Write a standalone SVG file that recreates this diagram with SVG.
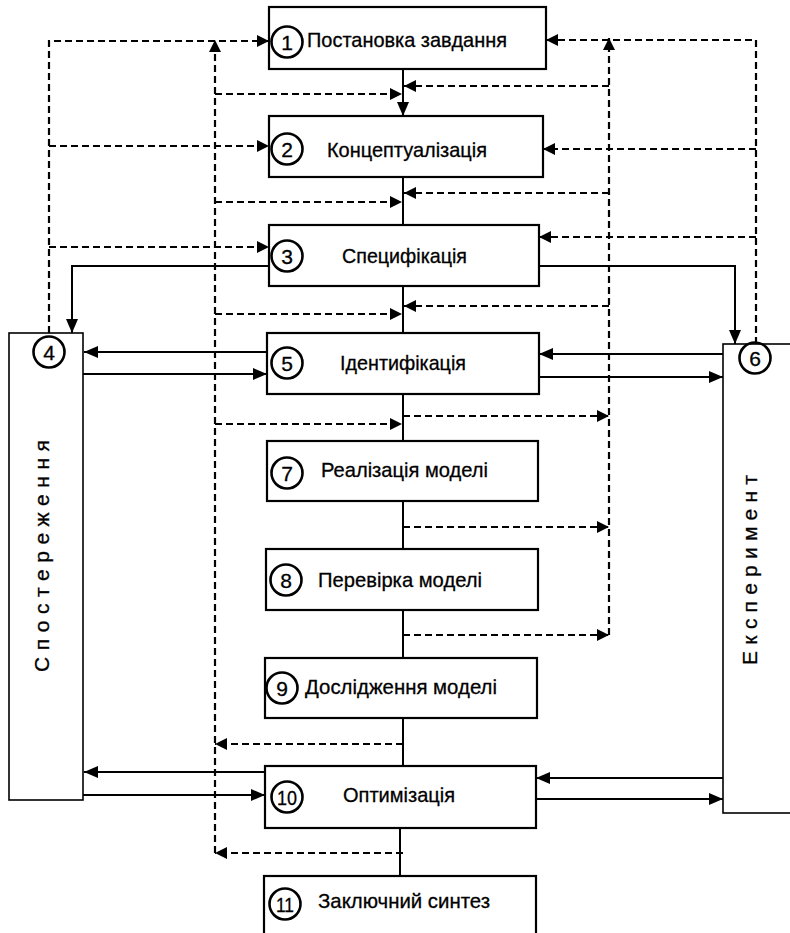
<svg xmlns="http://www.w3.org/2000/svg" width="790" height="933" viewBox="0 0 790 933">
<style>
.box{fill:#fff;stroke:#000;stroke-width:2.2}
.side{fill:#fff;stroke:#000;stroke-width:1.6}
.num{fill:none;stroke:#000;stroke-width:2.6}
.t{font-family:"Liberation Sans",Arial,sans-serif;font-size:21px;fill:#000;stroke:#000;stroke-width:0.3}
.d{font-family:"Liberation Sans",Arial,sans-serif;font-size:21px;fill:#000;text-anchor:middle;stroke:#000;stroke-width:0.3}
.v{font-family:"Liberation Sans",Arial,sans-serif;font-size:21px;fill:#000;stroke:#000;stroke-width:0.3}
.s{fill:none;stroke:#000;stroke-width:2}
.dash{fill:none;stroke:#000;stroke-width:2.2;stroke-dasharray:7 4}
</style>
<defs>
<marker id="ah" markerUnits="userSpaceOnUse" markerWidth="12" markerHeight="12" viewBox="0 0 12 12" refX="12" refY="6" orient="auto">
<path d="M0,0 L12,6 L0,12 z" fill="#000"/>
</marker>
<marker id="ahs" markerUnits="userSpaceOnUse" markerWidth="14" markerHeight="12" viewBox="0 0 14 12" refX="14" refY="6" orient="auto">
<path d="M0,0 L14,6 L0,12 z" fill="#000"/>
</marker>
</defs>
<rect width="790" height="933" fill="#fff"/>

<g id="connectors">
<g class="s" marker-end="url(#ahs)">
<path d="M403,69 V116"/>
<path d="M269,266 H72 V333"/>
<path d="M539,266 H735 V344"/>
<path d="M267,352 H84"/>
<path d="M83,374 H267"/>
<path d="M723,354 H539"/>
<path d="M539,377 H723"/>
<path d="M265,772 H84"/>
<path d="M83,795 H265"/>
<path d="M723,778 H536"/>
<path d="M536,799 H723"/>
</g>
<g class="s">
<path d="M403,177 V225"/>
<path d="M403,286 V333"/>
<path d="M403,393 V441"/>
<path d="M403,501 V549"/>
<path d="M403,610 V658"/>
<path d="M403,718 V766"/>
<path d="M400,828 V876"/>
</g>
<g class="dash" marker-end="url(#ah)">
<path d="M49,333 V41 H269"/>
<path d="M49,146 H269"/>
<path d="M49,247 H269"/>
<path d="M215,853 V40"/>
<path d="M215,94 H402"/>
<path d="M215,202 H402"/>
<path d="M215,314 H402"/>
<path d="M215,424 H402"/>
<path d="M403,744 H215"/>
<path d="M403,853 H215"/>
<path d="M609,635 V38"/>
<path d="M609,86 H404"/>
<path d="M609,193 H404"/>
<path d="M609,306 H404"/>
<path d="M403,416 H609"/>
<path d="M403,527 H609"/>
<path d="M403,635 H609"/>
<path d="M756,344 V40 H546"/>
<path d="M756,149 H543"/>
<path d="M756,237 H539"/>
</g>
</g>

<g id="n1">
<rect class="box" x="269" y="7" width="277" height="62"/>
<circle class="num" cx="287" cy="42" r="15.5"/>
<text class="d" x="287" y="49.5">1</text>
<text class="t" x="307" y="47" textLength="200" lengthAdjust="spacingAndGlyphs">Постановка  завдання</text>
</g>
<g id="n2">
<rect class="box" x="269" y="116" width="274" height="61"/>
<circle class="num" cx="287" cy="149" r="15.5"/>
<text class="d" x="287" y="156.5">2</text>
<text class="t" x="327" y="157" textLength="160" lengthAdjust="spacingAndGlyphs">Концептуалізація</text>
</g>
<g id="n3">
<rect class="box" x="269" y="225" width="270" height="61"/>
<circle class="num" cx="287" cy="256" r="15.5"/>
<text class="d" x="287" y="263.5">3</text>
<text class="t" x="342" y="263" textLength="125" lengthAdjust="spacingAndGlyphs">Специфікація</text>
</g>
<g id="n4">
<rect class="side" x="9" y="333" width="74" height="467"/>
<circle class="num" cx="49" cy="352" r="15.5"/>
<text class="d" x="49" y="359.5">4</text>
<text class="v" transform="translate(49,672) rotate(-90)" x="0" y="0" textLength="232" lengthAdjust="spacing">Спостереження</text>
</g>
<g id="n5">
<rect class="box" x="267" y="333" width="272" height="61"/>
<circle class="num" cx="287" cy="363" r="15.5"/>
<text class="d" x="287" y="370.5">5</text>
<text class="t" x="340" y="370" textLength="126" lengthAdjust="spacingAndGlyphs">Ідентифікація</text>
</g>
<g id="n6">
<rect class="side" x="723" y="344" width="100" height="469"/>
<circle class="num" cx="755" cy="358" r="15.5"/>
<text class="d" x="755" y="365.5">6</text>
<text class="v" transform="translate(757,665) rotate(-90)" x="0" y="0" textLength="190" lengthAdjust="spacing">Експеримент</text>
</g>
<g id="n7">
<rect class="box" x="267" y="441" width="271" height="60"/>
<circle class="num" cx="287" cy="473" r="15.5"/>
<text class="d" x="287" y="480.5">7</text>
<text class="t" x="321" y="477" textLength="167" lengthAdjust="spacingAndGlyphs">Реалізація  моделі</text>
</g>
<g id="n8">
<rect class="box" x="266" y="549" width="272" height="61"/>
<circle class="num" cx="286" cy="580" r="15.5"/>
<text class="d" x="286" y="587.5">8</text>
<text class="t" x="318" y="587" textLength="164" lengthAdjust="spacingAndGlyphs">Перевірка  моделі</text>
</g>
<g id="n9">
<rect class="box" x="265" y="658" width="272" height="60"/>
<circle class="num" cx="282" cy="688" r="15.5"/>
<text class="d" x="282" y="695.5">9</text>
<text class="t" x="305" y="694" textLength="192" lengthAdjust="spacingAndGlyphs">Дослідження  моделі</text>
</g>
<g id="n10">
<rect class="box" x="265" y="766" width="271" height="62"/>
<circle class="num" cx="287" cy="797" r="15.5"/>
<text class="d" x="287" y="804.5" textLength="20" lengthAdjust="spacingAndGlyphs">10</text>
<text class="t" x="343" y="802" textLength="112" lengthAdjust="spacingAndGlyphs">Оптимізація</text>
</g>
<g id="n11">
<rect class="box" x="264" y="876" width="272" height="80"/>
<circle class="num" cx="285" cy="904" r="15.5"/>
<text class="d" x="285" y="911.5" textLength="18" lengthAdjust="spacingAndGlyphs">11</text>
<text class="t" x="318" y="908" textLength="172" lengthAdjust="spacingAndGlyphs">Заключний  синтез</text>
</g>
</svg>
